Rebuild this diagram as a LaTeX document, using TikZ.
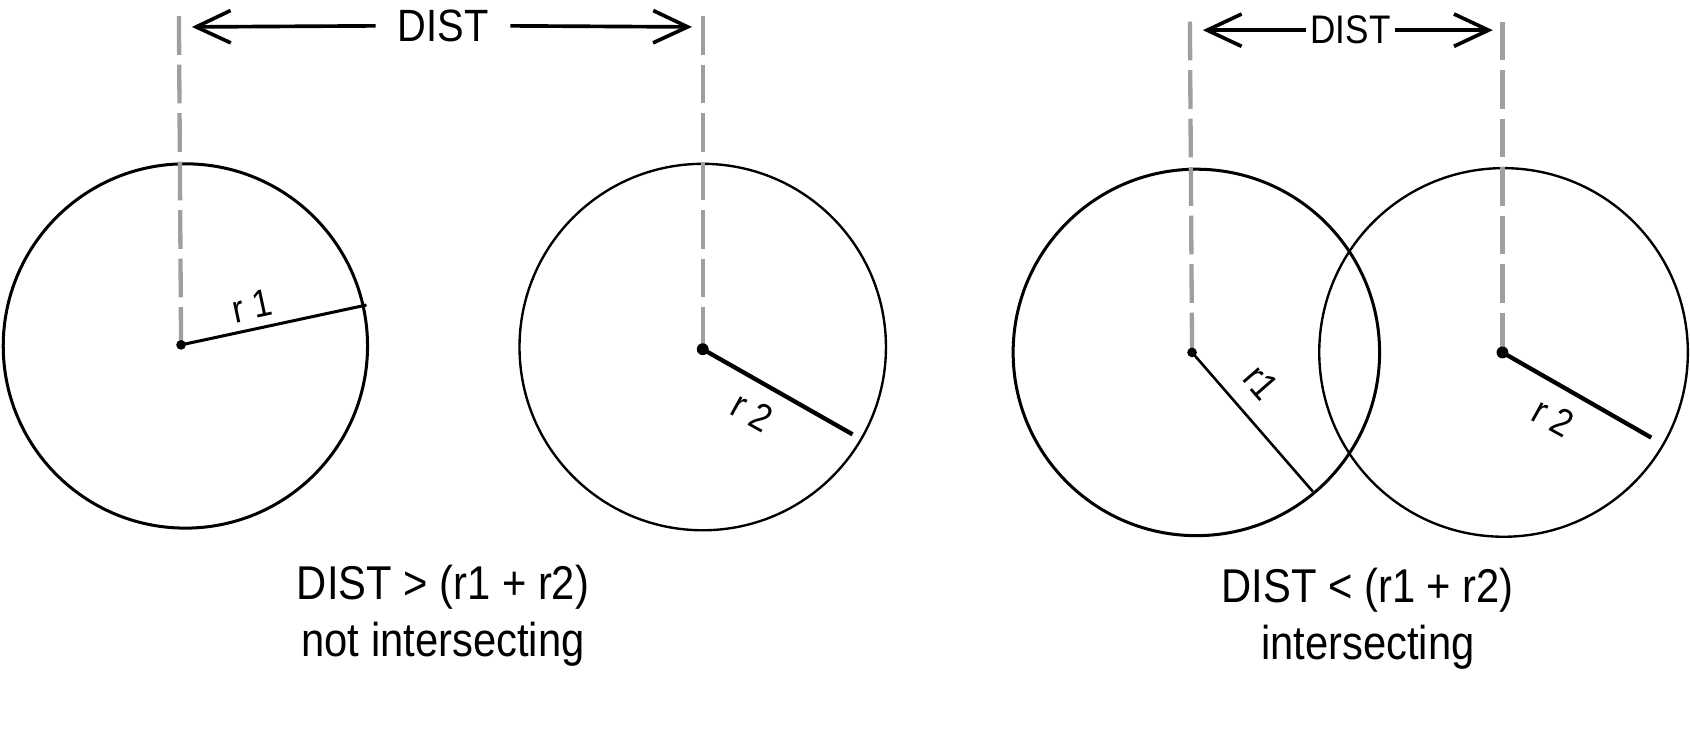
\documentclass[tikz,border=0pt]{standalone}
\usepackage{fontspec}
\setmainfont{Liberation Sans}[FakeStretch=0.88]
\usetikzlibrary{arrows.meta}
\tikzstyle{arrow} = [line width=1.7pt,-{Straight Barb[length=16pt,width=15pt,line width=1.7pt]}]
\tikzstyle{ring} = [line width=1.4pt]
\tikzstyle{thinring} = [line width=1.1pt]
\tikzstyle{guide} = [gray!75, line width=2pt, dash pattern=on 18pt off 4.5pt]
\tikzstyle{rlabel} = [font=\fontsize{18}{20}\selectfont, inner sep=1pt]
\tikzstyle{caption} = [font=\fontsize{22}{26.5}\selectfont, align=center]

\begin{document}
\begin{tikzpicture}[x=0.5pt,y=-0.5pt]
    \useasboundingbox (0,0) rectangle (1568,683);

    % not intersecting
    \coordinate (c1) at (168,320);
    \coordinate (c2) at (652,324);
    \coordinate (e1) at (340,283);
    \coordinate (e2) at (791,403);
    \coordinate (t1) at (166,15);
    \coordinate (t2) at (652,15);

    \draw [ring] (172,321) circle [radius=169];
    \draw [thinring] (652,322) circle [radius=170];
    \draw [guide] (t1) -- (c1);
    \draw [guide] (t2) -- (c2);
    \draw [line width=1.4pt] (c1) -- (e1);
    \draw [line width=2pt] (c2) -- (e2);
    \fill (c1) circle [radius=4.5];
    \fill (c2) circle [radius=5.5];
    \node (r1a) [rlabel, rotate=12] at (234,284) {r 1};
    \node (r2a) [rlabel, rotate=-29] at (698,382) {r 2};

    \coordinate (a1) at (178,25);
    \coordinate (a2) at (642,25);
    \node (dist1) [font=\fontsize{21}{24}\selectfont, inner xsep=10pt] at (411,24) {DIST};
    \draw [arrow] (dist1.west) -- (a1);
    \draw [arrow] (dist1.east) -- (a2);

    \node (cap1) [caption] at (411,571) {DIST > (r1 + r2)\\not intersecting};

    % intersecting
    \coordinate (c3) at (1106,327);
    \coordinate (c4) at (1394,327);
    \coordinate (e3) at (1218,456);
    \coordinate (e4) at (1532,406);
    \coordinate (t3) at (1104,20);
    \coordinate (t4) at (1394,20);

    \draw [ring] (1110,327) circle [radius=170];
    \draw [thinring] (1395,327) circle [radius=171];
    \draw [guide] (t3) -- (c3);
    \draw [guide] (t4) -- (c4);
    \draw [line width=1.2pt] (c3) -- (e3);
    \draw [line width=2pt] (c4) -- (e4);
    \fill (c3) circle [radius=4.5];
    \fill (c4) circle [radius=5.5];
    \node (r1b) [rlabel, rotate=-49] at (1170,355) {r1};
    \node (r2b) [rlabel, rotate=-29] at (1441,387) {r 2};

    \coordinate (a3) at (1116,28);
    \coordinate (a4) at (1385,28);
    \node (dist2) [font=\fontsize{18.5}{22}\selectfont, inner xsep=2pt] at (1253,28) {DIST};
    \draw [arrow] (dist2.west) -- (a3);
    \draw [arrow] (dist2.east) -- (a4);

    \node (cap2) [caption] at (1269,574) {DIST < (r1 + r2)\\intersecting};
  \end{tikzpicture}
\end{document}
